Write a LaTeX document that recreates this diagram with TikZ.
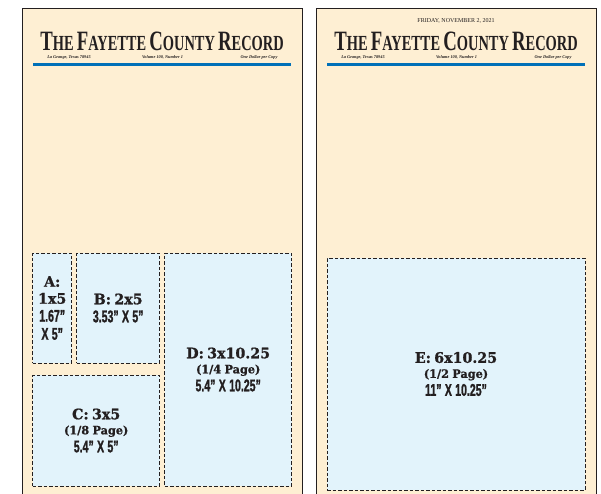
\documentclass[tikz,border=0pt]{standalone}
\usepackage{xcolor}
\usepackage{fontspec}
\setmainfont{Liberation Serif}
\newfontfamily\slabfont[FakeStretch=0.98,FakeBold=1]{DejaVu Serif}
\newfontfamily\narrowfont[FakeStretch=0.62,FakeBold=1.2]{Liberation Sans}
\newfontfamily\mastfont[FakeStretch=0.67]{Liberation Serif}
\definecolor{pagecream}{HTML}{FEEFD3}
\definecolor{adblue}{HTML}{E2F3FB}
\definecolor{ruleblue}{HTML}{0070B8}
\definecolor{inkdark}{HTML}{231F20}
\newcommand{\mastname}{\mastfont\bfseries{\fontsize{28}{28}\selectfont T}{\fontsize{21.5}{22}\selectfont HE} \hspace{1.5pt}{\fontsize{28}{28}\selectfont F}{\fontsize{21.5}{22}\selectfont AYETTE} \hspace{1.5pt}{\fontsize{28}{28}\selectfont C}{\fontsize{21.5}{22}\selectfont OUNTY} \hspace{1.5pt}{\fontsize{28}{28}\selectfont R}{\fontsize{21.5}{22}\selectfont ECORD}}
\newcommand{\adhead}[1]{{\slabfont\bfseries\fontsize{14.5}{17}\selectfont #1\par}}
\newcommand{\adpart}[1]{{\slabfont\bfseries\fontsize{11.5}{15}\selectfont #1\par}}
\newcommand{\adsize}[1]{{\narrowfont\bfseries\fontsize{17}{18}\selectfont #1\par}}
\tikzset{
	pagebox/.style = {rectangle, anchor=north west, inner sep=0pt, minimum width=280pt, minimum height=500pt, draw=inkdark, line width=0.9pt, fill=pagecream},
	adbox/.style = {rectangle, inner sep=0pt, draw=inkdark, dashed, dash pattern=on 3.5pt off 2pt, line width=0.9pt, fill=adblue, text=inkdark, align=center},
	title/.style = {inner sep=0pt, text=inkdark},
	subline/.style = {inner sep=0pt, text=inkdark, font=\fontsize{4.3}{4.5}\selectfont\bfseries\itshape},
	bluerule/.style = {rectangle, inner sep=0pt, minimum height=3pt, minimum width=258pt, fill=ruleblue}
}
\begin{document}
\begin{tikzpicture}[x=1pt, y=-1pt]
	\clip (0,0) rectangle (601,493);
	\fill [white] (0,0) rectangle (601,493);
	
	% left page
	\node (page1) [pagebox] at (22,8) {};
	\node (title1) [title, anchor=base] at (162,50) {\mastname};
	\node (place1) [subline] at (69,57.5) {La Grange, Texas 78945};
	\node (volume1) [subline] at (162.5,57.5) {Volume 100, Number 1};
	\node (price1) [subline] at (259,57.5) {One Dollar per Copy};
	\node (rule1) [bluerule] at (162,64.5) {};
	
	\node (adA) [adbox, text width=39pt, minimum height=110pt] at (52.2,308) {\adhead{A:}\adhead{1x5}\adsize{1.67”}\adsize{X 5”}};
	\node (adB) [adbox, text width=83pt, minimum height=110pt] at (118.2,308) {\adhead{B: 2x5}\adsize{3.53” X 5”}};
	\node (adC) [adbox, text width=127pt, minimum height=111pt] at (96.2,430.5) {\adhead{C: 3x5}\adpart{(1/8 Page)}\adsize{5.4” X 5”}};
	\node (adD) [adbox, text width=127pt, minimum height=233pt] at (228.2,369.5) {\adhead{D: 3x10.25}\adpart{(1/4 Page)}\adsize{5.4” X 10.25”}};
	
	% right page
	\node (page2) [pagebox] at (316,8) {};
	\node (date2) [title, font=\fontsize{6}{6}\selectfont] at (456,21) {FRIDAY, NOVEMBER 2, 2021};
	\node (title2) [title, anchor=base] at (456,50) {\mastname};
	\node (place2) [subline] at (363,57.5) {La Grange, Texas 78945};
	\node (volume2) [subline] at (456.5,57.5) {Volume 100, Number 1};
	\node (price2) [subline] at (553,57.5) {One Dollar per Copy};
	\node (rule2) [bluerule] at (456,64.5) {};
	
	\node (adE) [adbox, text width=258pt, minimum height=232pt] at (456,374) {\adhead{E: 6x10.25}\adpart{(1/2 Page)}\adsize{11” X 10.25”}};
	
\end{tikzpicture}
\end{document}
